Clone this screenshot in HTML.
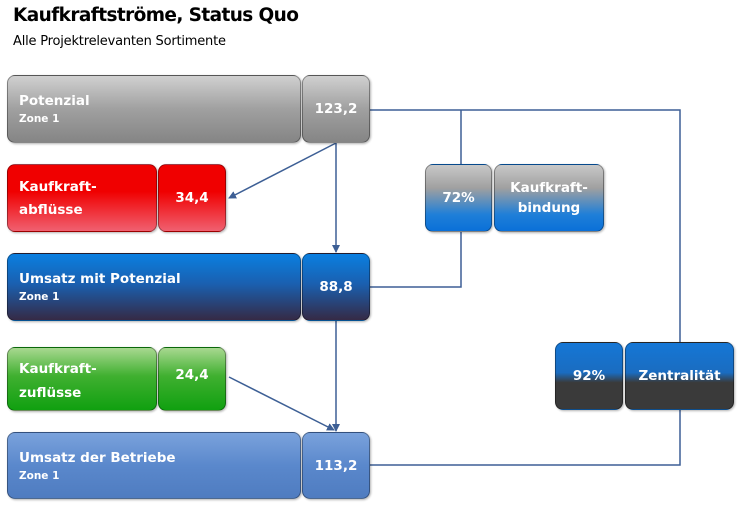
<!DOCTYPE html>
<html><head><meta charset="utf-8"><style>
body{margin:0;width:753px;height:510px;background:#fff;position:relative;overflow:hidden;font-family:"DejaVu Sans","Liberation Sans",sans-serif;}
.b{position:absolute;border-radius:8px;box-sizing:border-box;color:#fff;font-weight:bold;font-size:13.5px;border:1px solid rgba(0,0,0,0.35);box-shadow:1px 1px 2px rgba(0,0,0,0.3);}
.l{padding-left:11px;}
.l .t{position:absolute;left:11px;top:17px;}
.l .z{position:absolute;left:11px;font-size:10.5px;}
.c{display:flex;align-items:center;justify-content:center;text-align:center;}
.gray{background:linear-gradient(#d0d0d0,#a0a0a0 50%,#858585);}
.red{background:linear-gradient(#f00000,#f00000 40%,#f06070);}
.blue{background:linear-gradient(#0a7fe0,#1a60b0 45%,#352a45);}
.green{background:linear-gradient(#a8d890,#40b030 45%,#10a010);}
.lb{background:linear-gradient(#7aa2dc,#5a88cc 50%,#4f7cc0);}
.gb{background:linear-gradient(#c8c8c8,#a0a0a0 35%,#1f7fd8 75%,#0a70d8);}
.bd{background:linear-gradient(#1577d6,#1a6cc0 45%,#3a3a3a 60%,#3a3a3a);}
</style></head><body>
<div style="position:absolute;left:13px;top:5px;font-size:18.5px;font-weight:bold;font-family:'DejaVu Sans',sans-serif;letter-spacing:-0.6px;">Kaufkraftströme, Status Quo</div>
<div style="position:absolute;left:13px;top:34px;font-size:13px;letter-spacing:-0.2px;">Alle Projektrelevanten Sortimente</div>
<svg width="753" height="510" style="position:absolute;left:0;top:0">
<defs><marker id="a" markerWidth="8" markerHeight="8" refX="7" refY="4" orient="auto" markerUnits="userSpaceOnUse"><path d="M0,0 L8,4 L0,8 z" fill="#3d5f95"/></marker></defs>
<g stroke="#3d5f95" stroke-width="1.5" fill="none">
<path d="M370,110 H680 V342"/>
<path d="M680,410 V465 H370"/>
<path d="M461,110 V164"/>
<path d="M461,232 V287 H370"/>
<path d="M336,143 V252" marker-end="url(#a)"/>
<path d="M336,143 L229,198" marker-end="url(#a)"/>
<path d="M336,321 V431" marker-end="url(#a)"/>
<path d="M229,377 L334,430" marker-end="url(#a)"/>
</g></svg>
<div class="b l gray" style="left:7px;top:75px;width:294px;height:68px"><span class="t">Potenzial</span><span class="z" style="top:37px">Zone 1</span></div>
<div class="b c gray" style="left:302px;top:75px;width:68px;height:68px">123,2</div>
<div class="b l red" style="left:7px;top:164px;width:150px;height:68px"><span class="t" style="top:11px;line-height:23px">Kaufkraft-<br>abflüsse</span></div>
<div class="b c red" style="left:158px;top:164px;width:68px;height:68px">34,4</div>
<div class="b l blue" style="left:7px;top:253px;width:294px;height:68px"><span class="t">Umsatz mit Potenzial</span><span class="z" style="top:37px">Zone 1</span></div>
<div class="b c blue" style="left:302px;top:253px;width:68px;height:68px">88,8</div>
<div class="b l green" style="left:7px;top:347px;width:150px;height:64px"><span class="t" style="top:9px;line-height:24px">Kaufkraft-<br>zuflüsse</span></div>
<div class="b c green" style="left:158px;top:347px;width:68px;height:64px;padding-bottom:8px">24,4</div>
<div class="b l lb" style="left:7px;top:432px;width:294px;height:67px"><span class="t">Umsatz der Betriebe</span><span class="z" style="top:37px">Zone 1</span></div>
<div class="b c lb" style="left:302px;top:432px;width:68px;height:67px">113,2</div>
<div class="b c gb" style="left:425px;top:164px;width:67px;height:68px">72%</div>
<div class="b c gb" style="left:494px;top:164px;width:110px;height:68px;line-height:20px">Kaufkraft-<br>bindung</div>
<div class="b c bd" style="left:555px;top:342px;width:68px;height:68px">92%</div>
<div class="b c bd" style="left:625px;top:342px;width:109px;height:68px">Zentralität</div>
</body></html>
